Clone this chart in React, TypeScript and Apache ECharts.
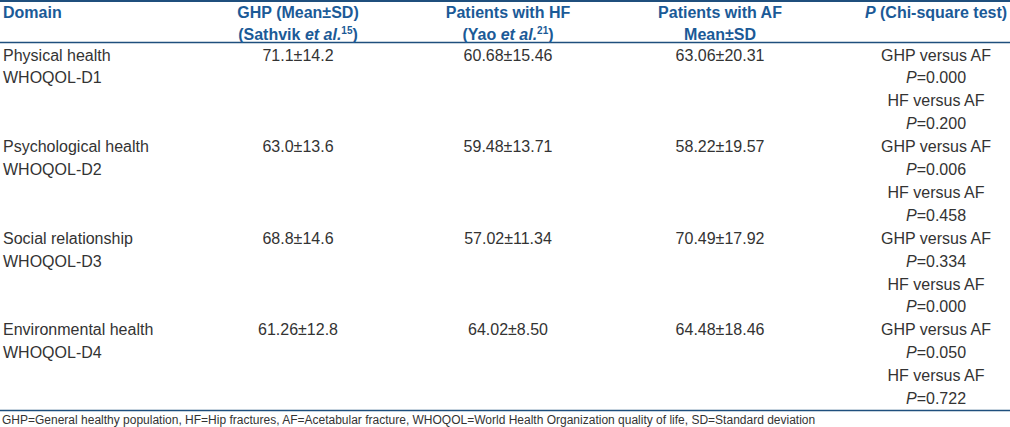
import React, { useEffect, useRef } from "react";
import * as echarts from "echarts";

const headers = [
  ["{b|Domain}", ""],
  ["{b|GHP (Mean±SD)}", "{b|(Sathvik }{bi|et al.}{sup|15}{b|)}"],
  ["{b|Patients with HF}", "{b|(Yao }{bi|et al.}{sup|21}{b|)}"],
  ["{b|Patients with AF}", "{b|Mean±SD}"],
  ["{bi|P}{b| (Chi-square test)}", ""],
];
const domains = ["Physical health", "Psychological health", "Social relationship", "Environmental health"];
const codes = ["WHOQOL-D1", "WHOQOL-D2", "WHOQOL-D3", "WHOQOL-D4"];
const ghp = ["71.1±14.2", "63.0±13.6", "68.8±14.6", "61.26±12.8"];
const hf = ["60.68±15.46", "59.48±13.71", "57.02±11.34", "64.02±8.50"];
const af = ["63.06±20.31", "58.22±19.57", "70.49±17.92", "64.48±18.46"];
const pGhpAf = ["0.000", "0.006", "0.334", "0.050"];
const pHfAf = ["0.200", "0.458", "0.000", "0.722"];
const footnote =
  "GHP=General healthy population, HF=Hip fractures, AF=Acetabular fracture, WHOQOL=World Health Organization quality of life, SD=Standard deviation";

const FONT = "'Liberation Sans', Arial, sans-serif";
const FS = 16;
const HEAD = "#1b5a97";
const RULE = "#1f4f7d";
const BODY = "#333333";

const colX = [3, 298, 508, 720, 936];

export default function App() {
  const ref = useRef<HTMLDivElement>(null);
  useEffect(() => {
    document.body.style.margin = "0";
    const chart = echarts.init(ref.current!, null, { renderer: "svg" });
    const els: any[] = [];
    const rich = {
      b: { fontFamily: FONT, fontSize: FS, fontWeight: "bold", fill: HEAD, lineHeight: 17 },
      bi: { fontFamily: FONT, fontSize: FS, fontWeight: "bold", fontStyle: "italic", fill: HEAD, lineHeight: 17 },
      sup: { fontFamily: FONT, fontSize: 10, fontWeight: "bold", fill: HEAD, lineHeight: 12, verticalAlign: "top" },
      n: { fontFamily: FONT, fontSize: FS, fill: BODY, lineHeight: 17 },
      i: { fontFamily: FONT, fontSize: FS, fontStyle: "italic", fill: BODY, lineHeight: 17 },
    };
    const text = (x: number, y: number, t: string, align: string) => {
      els.push({
        type: "text",
        x,
        y,
        style: { text: t, rich, textAlign: align, textVerticalAlign: "middle", fontFamily: FONT, fontSize: FS, fill: BODY },
      });
    };
    const rule = (y: number, w: number) =>
      els.push({ type: "line", shape: { x1: 0, y1: y, x2: 1010, y2: y }, style: { stroke: RULE, lineWidth: w } });

    rule(1, 2);
    rule(42.5, 1.5);
    rule(410.5, 1.5);

    headers.forEach((h, c) => {
      const align = c === 0 ? "left" : "center";
      text(colX[c], 12, h[0], align);
      if (h[1]) text(colX[c], 34, h[1], align);
    });

    const y0 = 55;
    const lh = 22.9;
    domains.forEach((d, r) => {
      const y = y0 + r * 4 * lh;
      text(colX[0], y, `{n|${d}}`, "left");
      text(colX[0], y + lh, `{n|${codes[r]}}`, "left");
      text(colX[1], y, `{n|${ghp[r]}}`, "center");
      text(colX[2], y, `{n|${hf[r]}}`, "center");
      text(colX[3], y, `{n|${af[r]}}`, "center");
      text(colX[4], y, `{n|GHP versus AF}`, "center");
      text(colX[4], y + lh, `{i|P}{n|=${pGhpAf[r]}}`, "center");
      text(colX[4], y + 2 * lh, `{n|HF versus AF}`, "center");
      text(colX[4], y + 3 * lh, `{i|P}{n|=${pHfAf[r]}}`, "center");
    });

    els.push({
      type: "text",
      x: 2,
      y: 420,
      style: { text: footnote, textAlign: "left", textVerticalAlign: "middle", fontFamily: FONT, fontSize: 12, fill: BODY },
    });

    chart.setOption({ animation: false, graphic: { elements: els } });
    return () => chart.dispose();
  }, []);
  return <div ref={ref} style={{ width: 1010, height: 427 }} />;
}
